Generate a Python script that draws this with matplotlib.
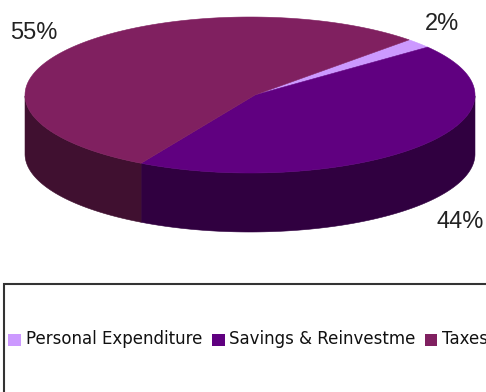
import numpy as np
import matplotlib
matplotlib.use("Agg")
import matplotlib.pyplot as plt
from matplotlib.patches import Polygon, Rectangle

categories = ["Personal Expenditure", "Savings & Reinvestme", "Taxes"]
shares = [2, 44, 55]
top_colors = ["#CC99FF", "#600080", "#802060"]
side_colors = ["#66507F", "#300040", "#401030"]
label_positions = [(442, 24), (460, 222), (34, 33)]
legend_swatches = [8, 212, 424.5]
legend_texts = [26, 229, 442]

fig = plt.figure(figsize=(4.86, 3.92), dpi=100)
ax = fig.add_axes([0, 0, 1, 1])
ax.set_xlim(0, 486)
ax.set_ylim(392, 0)
ax.axis("off")

cx, cy, rx, ry, depth = 250, 95, 225, 78, 59
apex = (255, 95)


def rim(t, drop=0):
    t = np.radians(t)
    return np.column_stack([cx + rx * np.cos(t), cy - ry * np.sin(t) + drop])


# Walk clockwise around the pie, starting at the upper right
spans = np.array(shares) / sum(shares) * 360
start = 45.0
for span, top, side in zip(spans, top_colors, side_colors):
    angles = np.linspace(start, start - span, 160)
    # The rim wall is only visible on the front half of the ellipse
    wrapped = (angles + 360) % 360
    front = angles[(wrapped >= 180) & (wrapped <= 360)]
    if front.size > 1:
        wall = np.vstack([rim(front), rim(front[::-1], depth)])
        ax.add_patch(Polygon(wall, closed=True, fc=side, ec=side, lw=0.4))
    face = np.vstack([[apex], rim(angles)])
    ax.add_patch(Polygon(face, closed=True, fc=top, ec=top, lw=0.4))
    start -= span

for share, (x, y) in zip(shares, label_positions):
    ax.text(x, y, f"{share}%", fontsize=17, family="Liberation Sans",
            ha="center", va="center", color="#222222")

# Legend frame runs past the right and bottom edges of the figure
ax.add_patch(Rectangle((3.5, 284), 600, 200, fc="white", ec="#333333", lw=1.5,
                       clip_on=True))
for label, color, sx, tx in zip(categories, top_colors, legend_swatches, legend_texts):
    ax.add_patch(Rectangle((sx, 333.5), 12.5, 12.5, fc=color, ec="none"))
    ax.text(tx, 339, label, fontsize=12, family="DejaVu Sans",
            ha="left", va="center", color="#111111")

fig.savefig("out.png", dpi=100)
